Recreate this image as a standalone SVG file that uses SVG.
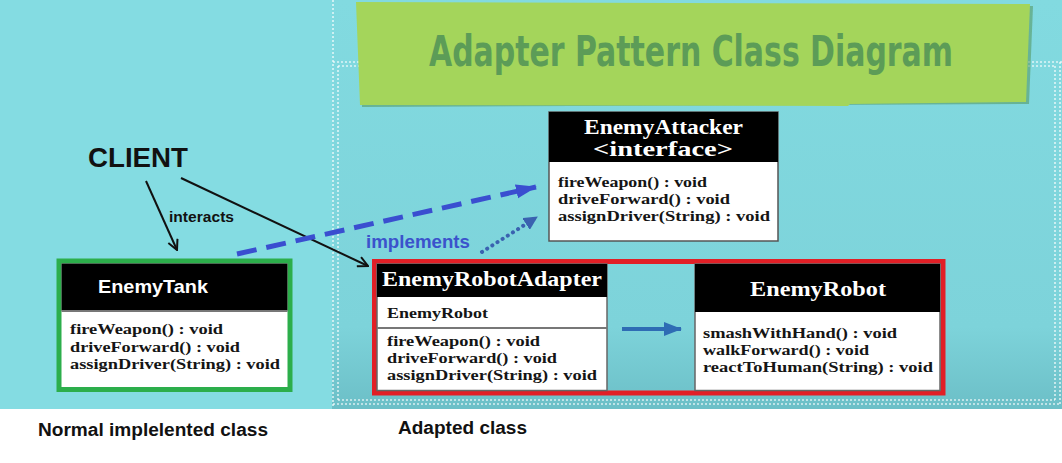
<svg xmlns="http://www.w3.org/2000/svg" width="1062" height="463" viewBox="0 0 1062 463">
<defs>
<style>
.m{font-family:"Liberation Serif","Times New Roman",serif;font-weight:bold;font-size:15px;fill:#151515}
.h{font-family:"Liberation Serif","Times New Roman",serif;font-weight:bold;font-size:21px;fill:#ffffff}
.sans{font-family:"Liberation Sans",Arial,sans-serif;font-weight:bold}
.stitch{stroke:#ffffff;stroke-width:1.6;stroke-dasharray:2 2;opacity:0.75;fill:none}
.blk{stroke:#111;stroke-width:2;fill:none}
</style>
<linearGradient id="bgR" x1="0" y1="0" x2="0" y2="1">
<stop offset="0" stop-color="#82DAE0"/>
<stop offset="0.8" stop-color="#7DD3DA"/>
<stop offset="1" stop-color="#6CBFC7"/>
</linearGradient>
<marker id="openArrow" viewBox="0 0 12 12" refX="11" refY="6" markerWidth="12" markerHeight="12" markerUnits="userSpaceOnUse" orient="auto">
<path d="M1,1 L11,6 L1,11" fill="none" stroke="#111" stroke-width="2"/>
</marker>
<marker id="blueHead" viewBox="0 0 22 16" refX="20" refY="8" markerWidth="22" markerHeight="16" markerUnits="userSpaceOnUse" orient="auto">
<path d="M0,1 L21,8 L0,15 Z" fill="#3A4ED0"/>
</marker>
<marker id="dotHead" viewBox="0 0 14 14" refX="13" refY="7" markerWidth="14" markerHeight="14" markerUnits="userSpaceOnUse" orient="auto">
<path d="M0,0 L14,7 L0,14 Z" fill="#3A62B0"/>
</marker>
<marker id="solidHead" viewBox="0 0 18 16" refX="17" refY="8" markerWidth="18" markerHeight="16" markerUnits="userSpaceOnUse" orient="auto">
<path d="M0,1 L18,8 L0,15 Z" fill="#2E6CB4"/>
</marker>
</defs>

<!-- background -->
<rect x="0" y="0" width="1062" height="463" fill="#ffffff"/>
<rect x="0" y="0" width="332" height="409" fill="#84DCE2"/>
<rect x="332" y="0" width="730" height="409" fill="url(#bgR)"/>

<!-- stitched frame -->
<g id="frame">
<line class="stitch" x1="333" y1="0" x2="333" y2="406"/>
<line class="stitch" x1="338" y1="66" x2="338" y2="400"/>
<line class="stitch" x1="333" y1="62" x2="360" y2="62"/>
<line class="stitch" x1="338" y1="66" x2="360" y2="66"/>
<line class="stitch" x1="1028" y1="62" x2="1062" y2="62"/>
<line class="stitch" x1="1028" y1="66" x2="1055" y2="66"/>
<line class="stitch" x1="1055" y1="66" x2="1055" y2="400"/>
<line class="stitch" x1="1060" y1="62" x2="1060" y2="406"/>
<line class="stitch" x1="338" y1="400" x2="1055" y2="400"/>
<line class="stitch" x1="333" y1="404" x2="1060" y2="404"/>
</g>

<!-- title banner -->
<g id="title">
<polygon points="360,3 1033,6 1029,104 362,107" fill="#4E8E4E" opacity="0.5"/>
<polygon points="356,2 1030,4 1026,102 850,104 848,106 360,105" fill="#A4D55B"/>
<text transform="translate(429,66) scale(1,1.25)" x="0" y="0" textLength="524" lengthAdjust="spacingAndGlyphs" font-family="'DejaVu Sans Condensed','DejaVu Sans',sans-serif" font-weight="bold" font-size="34" fill="#5C9C57">Adapter Pattern Class Diagram</text>
</g>

<!-- client -->
<g id="client">
<text class="sans" x="88" y="167" font-size="28" fill="#111" textLength="100" lengthAdjust="spacingAndGlyphs">CLIENT</text>
</g>

<!-- connectors -->
<g id="connectors">
<line class="blk" x1="146" y1="181" x2="177" y2="250" marker-end="url(#openArrow)"/>
<line class="blk" x1="181" y1="178" x2="368" y2="266" marker-end="url(#openArrow)"/>
<line x1="237" y1="254" x2="536" y2="187" stroke="#3A4ED0" stroke-width="5" stroke-dasharray="20 10" marker-end="url(#blueHead)"/>
<line x1="482" y1="252" x2="537" y2="217" stroke="#3A62B0" stroke-width="4" stroke-linecap="round" stroke-dasharray="0.1 6" marker-end="url(#dotHead)"/>
<line x1="622" y1="329" x2="681" y2="329" stroke="#2E6CB4" stroke-width="4" marker-end="url(#solidHead)"/>
<text class="sans" x="169" y="222" font-size="15" fill="#111" textLength="65" lengthAdjust="spacingAndGlyphs">interacts</text>
<text class="sans" x="366" y="248" font-size="18" fill="#3B52CC" textLength="104" lengthAdjust="spacingAndGlyphs">implements</text>
</g>

<!-- EnemyTank -->
<g id="enemyTank">
<rect x="59" y="261" width="231" height="128.5" fill="#ffffff" stroke="#2CAE4B" stroke-width="5"/>
<rect x="61.5" y="263.5" width="226" height="47" fill="#000000"/>
<line x1="61.5" y1="311" x2="287.5" y2="311" stroke="#777" stroke-width="2"/>
<text class="sans" x="98" y="293" font-size="19" fill="#ffffff" textLength="110" lengthAdjust="spacingAndGlyphs">EnemyTank</text>
<text class="m" x="70" y="334" textLength="153" lengthAdjust="spacingAndGlyphs">fireWeapon() : void</text>
<text class="m" x="70" y="352" textLength="170" lengthAdjust="spacingAndGlyphs">driveForward() : void</text>
<text class="m" x="70" y="369" textLength="210" lengthAdjust="spacingAndGlyphs">assignDriver(String) : void</text>
</g>

<!-- EnemyAttacker -->
<g id="enemyAttacker">
<rect x="549" y="112" width="229" height="129" fill="#ffffff" stroke="#555" stroke-width="1.5"/>
<rect x="549" y="112" width="229" height="50" fill="#000000"/>
<text class="h" x="584" y="134" font-size="19" textLength="159" lengthAdjust="spacingAndGlyphs">EnemyAttacker</text>
<text class="h" x="593" y="156" font-size="19" textLength="140" lengthAdjust="spacingAndGlyphs">&lt;interface&gt;</text>
<text class="m" x="558" y="187" textLength="149" lengthAdjust="spacingAndGlyphs">fireWeapon() : void</text>
<text class="m" x="558" y="204" textLength="172" lengthAdjust="spacingAndGlyphs">driveForward() : void</text>
<text class="m" x="558" y="221" textLength="212" lengthAdjust="spacingAndGlyphs">assignDriver(String) : void</text>
</g>

<!-- Adapted group frame -->
<g id="adaptedFrame">
<rect x="374.5" y="261.5" width="568.5" height="131.5" fill="none" stroke="#E11F26" stroke-width="5"/>
</g>

<!-- EnemyRobotAdapter -->
<g id="enemyRobotAdapter">
<rect x="377" y="264" width="230" height="126.5" fill="#ffffff" stroke="#666" stroke-width="1.5"/>
<rect x="377" y="264" width="230" height="33" fill="#000000"/>
<line x1="377" y1="328" x2="607" y2="328" stroke="#777" stroke-width="2"/>
<text class="h" x="382" y="286" textLength="220" lengthAdjust="spacingAndGlyphs">EnemyRobotAdapter</text>
<text class="m" x="387" y="318" textLength="101" lengthAdjust="spacingAndGlyphs">EnemyRobot</text>
<text class="m" x="387" y="346" textLength="153" lengthAdjust="spacingAndGlyphs">fireWeapon() : void</text>
<text class="m" x="387" y="363" textLength="170" lengthAdjust="spacingAndGlyphs">driveForward() : void</text>
<text class="m" x="387" y="380" textLength="210" lengthAdjust="spacingAndGlyphs">assignDriver(String) : void</text>
</g>

<!-- EnemyRobot -->
<g id="enemyRobot">
<rect x="695" y="264" width="245" height="126.5" fill="#ffffff" stroke="#666" stroke-width="1.5"/>
<rect x="695" y="264" width="245" height="48" fill="#000000"/>
<text class="h" x="750" y="296" textLength="136" lengthAdjust="spacingAndGlyphs">EnemyRobot</text>
<text class="m" x="703" y="338" textLength="194" lengthAdjust="spacingAndGlyphs">smashWithHand() : void</text>
<text class="m" x="703" y="355" textLength="166" lengthAdjust="spacingAndGlyphs">walkForward() : void</text>
<text class="m" x="703" y="372" textLength="230" lengthAdjust="spacingAndGlyphs">reactToHuman(String) : void</text>
</g>

<!-- captions -->
<g id="captions">
<text class="sans" x="38" y="436" font-size="18" fill="#111" textLength="230" lengthAdjust="spacingAndGlyphs">Normal implelented class</text>
<text class="sans" x="398" y="434" font-size="18" fill="#111" textLength="129" lengthAdjust="spacingAndGlyphs">Adapted class</text>
</g>
</svg>
